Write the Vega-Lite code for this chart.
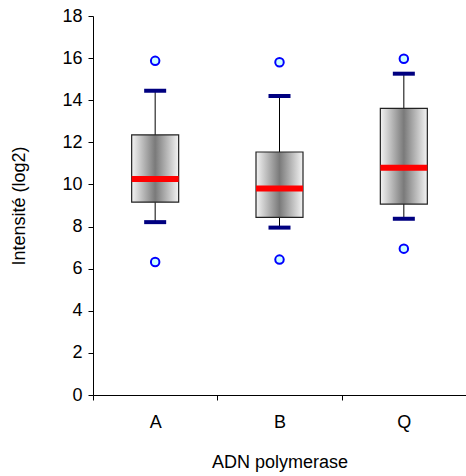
{
  "$schema": "https://vega.github.io/schema/vega-lite/v6.json",
  "autosize": "none",
  "padding": {"left": 93, "top": 16, "right": 0, "bottom": 81},
  "width": 373,
  "height": 379,
  "background": "white",
  "config": {
    "view": {"stroke": null},
    "font": "Liberation Sans",
    "axis": {"domainColor": "black", "tickColor": "black", "labelColor": "black", "titleColor": "black", "labelFont": "Liberation Sans", "titleFont": "Liberation Sans", "labelFontSize": 18, "titleFontSize": 18, "titleFontWeight": "normal", "grid": false, "tickSize": 5}
  },
  "data": {
    "values": [
      {"cat": "A", "lo_out": 6.32, "wlo": 8.21, "q1": 9.16, "med": 10.26, "q3": 12.35, "whi": 14.45, "hi_out": 15.87},
      {"cat": "B", "lo_out": 6.43, "wlo": 7.95, "q1": 8.44, "med": 9.81, "q3": 11.54, "whi": 14.2, "hi_out": 15.8},
      {"cat": "Q", "lo_out": 6.95, "wlo": 8.37, "q1": 9.07, "med": 10.79, "q3": 13.61, "whi": 15.26, "hi_out": 15.97}
    ]
  },
  "encoding": {
    "x": {
      "field": "cat", "type": "nominal",
      "scale": {"paddingInner": 0, "paddingOuter": 0},
      "axis": {"title": "ADN polymerase", "labelAngle": 0, "tickBand": "extent", "labelPadding": 13, "titlePadding": 22}
    }
  },
  "layer": [
    {
      "mark": {"type": "rule", "color": "black", "strokeWidth": 1},
      "encoding": {
        "y": {"field": "q3", "type": "quantitative", "scale": {"domain": [0, 18], "nice": false}, "axis": {"title": "Intensité (log2)", "values": [0,2,4,6,8,10,12,14,16,18], "labelPadding": 6, "titlePadding": 33}},
        "y2": {"field": "whi"}
      }
    },
    {
      "mark": {"type": "rule", "color": "black", "strokeWidth": 1},
      "encoding": {
        "y": {"field": "wlo", "type": "quantitative"},
        "y2": {"field": "q1"}
      }
    },
    {
      "mark": {
        "type": "bar", "size": 47, "stroke": "#222222", "strokeWidth": 1.2,
        "fill": {"gradient": "linear", "x1": 0, "y1": 0, "x2": 1, "y2": 0,
          "stops": [
            {"offset": 0, "color": "#f4f4f4"},
            {"offset": 0.5, "color": "#7a7a7a"},
            {"offset": 1, "color": "#f4f4f4"}
          ]}
      },
      "encoding": {
        "y": {"field": "q1", "type": "quantitative"},
        "y2": {"field": "q3"}
      }
    },
    {
      "mark": {"type": "tick", "color": "#ff0000", "size": 47, "thickness": 6, "opacity": 1},
      "encoding": {"y": {"field": "med", "type": "quantitative"}}
    },
    {
      "mark": {"type": "tick", "color": "#000080", "size": 22, "thickness": 4, "opacity": 1},
      "encoding": {"y": {"field": "whi", "type": "quantitative"}}
    },
    {
      "mark": {"type": "tick", "color": "#000080", "size": 22, "thickness": 4, "opacity": 1},
      "encoding": {"y": {"field": "wlo", "type": "quantitative"}}
    },
    {
      "mark": {"type": "point", "shape": "circle", "filled": true, "color": "#ccffff", "fill": "#ccffff", "fillOpacity": 1, "stroke": "#0000ff", "strokeWidth": 2, "size": 72, "opacity": 1},
      "encoding": {"y": {"field": "hi_out", "type": "quantitative"}}
    },
    {
      "mark": {"type": "point", "shape": "circle", "filled": true, "color": "#ccffff", "fill": "#ccffff", "fillOpacity": 1, "stroke": "#0000ff", "strokeWidth": 2, "size": 72, "opacity": 1},
      "encoding": {"y": {"field": "lo_out", "type": "quantitative"}}
    }
  ]
}
